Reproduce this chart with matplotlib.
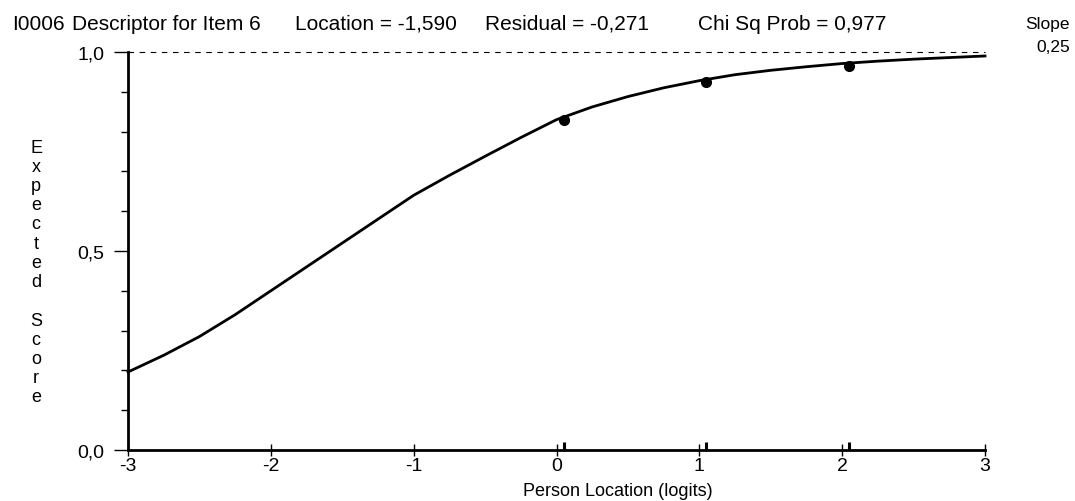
import matplotlib.pyplot as plt
from matplotlib.ticker import FuncFormatter, MultipleLocator

# expected score curve
curve_x = [-3.0, -2.75, -2.5, -2.25, -2.0, -1.75, -1.5, -1.25, -1.0, -0.75, -0.5, -0.25,
           0.0, 0.25, 0.5, 0.75, 1.0, 1.25, 1.5, 1.75, 2.0, 2.25, 2.5, 2.75, 3.0]
curve_y = [0.196, 0.238, 0.285, 0.34, 0.40, 0.46, 0.52, 0.58, 0.64, 0.69, 0.738, 0.785,
           0.83, 0.862, 0.888, 0.91, 0.928, 0.943, 0.954, 0.963, 0.971, 0.977, 0.982, 0.986, 0.99]

# observed class interval means
group_x = [0.05, 1.05, 2.05]
group_y = [0.828, 0.924, 0.966]

x_ticks = [-3, -2, -1, 0, 1, 2, 3]
y_ticks = [0.0, 0.5, 1.0]

plt.rcParams['font.family'] = ['Liberation Sans', 'DejaVu Sans']

fig = plt.figure(figsize=(10.75, 5.02), dpi=100)
ax = fig.add_axes([128/1075, 51/502, 857/1075, 398/502])

ax.plot(curve_x, curve_y, color='black', lw=2, clip_on=False, zorder=3)
ax.plot(group_x, group_y, 'o', color='black', ms=7, zorder=4)
ax.plot([-3, 3], [1.0, 1.0], color='black', lw=0.8, ls=(0, (5, 5)), clip_on=False)
ax.vlines(group_x, 0, 0.02, color='black', lw=2.2, clip_on=False)

ax.set_xlim(-3, 3)
ax.set_ylim(0, 1)
for side in ['top', 'right']:
    ax.spines[side].set_visible(False)
for side in ['left', 'bottom']:
    ax.spines[side].set_linewidth(2)

ax.set_xticks(x_ticks)
ax.set_yticks(y_ticks)
ax.yaxis.set_minor_locator(MultipleLocator(0.1))
ax.yaxis.set_major_formatter(FuncFormatter(lambda v, p: f"{v:.1f}".replace('.', ',')))
ax.xaxis.set_major_formatter(FuncFormatter(lambda v, p: f"{v:.0f}"))
ax.tick_params(axis='y', which='major', length=10, width=1, pad=7, labelsize=14)
ax.tick_params(axis='y', which='minor', length=5, width=1)
ax.tick_params(axis='x', which='major', direction='inout', length=8, width=1, pad=1, labelsize=14)

fig.text(618/1075, 1 - 492/502, "Person Location (logits)", ha='center', va='center', fontsize=13)
fig.text(36/1075, 1 - 273/502, "E\nx\np\ne\nc\nt\ne\nd\n\nS\nc\no\nr\ne",
         ha='center', va='center', fontsize=13, linespacing=1.17)

top = 1 - 24/502
fig.text(12/1075, top, "I0006", va='center', fontsize=15)
fig.text(72/1075, top, "Descriptor for Item 6", va='center', fontsize=15)
fig.text(295/1075, top, "Location = -1,590", va='center', fontsize=15)
fig.text(485/1075, top, "Residual = -0,271", va='center', fontsize=15)
fig.text(698/1075, top, "Chi Sq Prob = 0,977", va='center', fontsize=15)
fig.text(1070/1075, top, "Slope", ha='right', va='center', fontsize=12.5)
fig.text(1070/1075, 1 - 47/502, "0,25", ha='right', va='center', fontsize=12.5)

fig.savefig('out.png', dpi=100)
